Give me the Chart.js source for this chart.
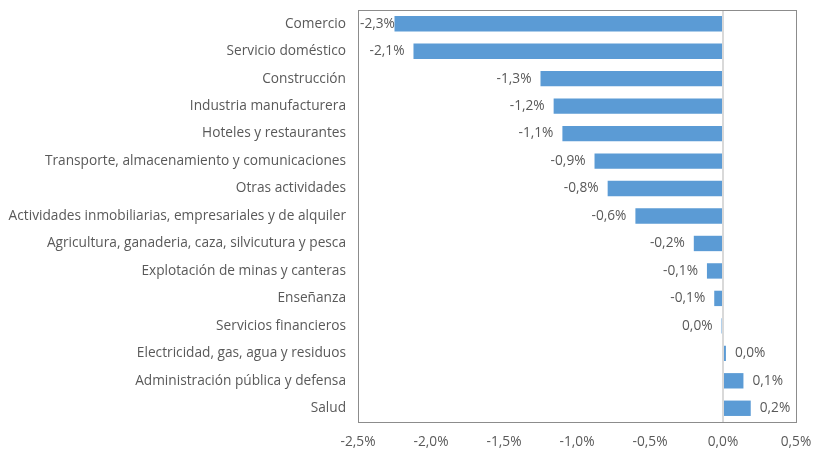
<!DOCTYPE html>
<html>
<head>
<meta charset="utf-8">
<script src="https://cdn.jsdelivr.net/npm/chart.js@4"></script>
<style>
  html, body { margin: 0; padding: 0; background: #fff; }
  #wrap { width: 813px; height: 450px; }
</style>
</head>
<body>
<div id="wrap"><canvas id="chart"></canvas></div>
<script>
const sectors = [
  "Comercio",
  "Servicio doméstico",
  "Construcción",
  "Industria manufacturera",
  "Hoteles y restaurantes",
  "Transporte, almacenamiento y comunicaciones",
  "Otras actividades",
  "Actividades inmobiliarias, empresariales y de alquiler",
  "Agricultura, ganaderia, caza, silvicutura y pesca",
  "Explotación de minas y canteras",
  "Enseñanza",
  "Servicios financieros",
  "Electricidad, gas, agua y residuos",
  "Administración pública y defensa",
  "Salud"
]
const change = [-2.25, -2.12, -1.25, -1.16, -1.10, -0.88, -0.79, -0.60, -0.20, -0.11, -0.06, -0.01, 0.02, 0.14, 0.19]
const xTicks = [-2.5, -2.0, -1.5, -1.0, -0.5, 0.0, 0.5]

const textColor = "#595959"
const fontFamily = "'Open Sans', sans-serif"
const fontSize = 13.7

const pct = v => {
  let s = v.toFixed(1).replace(".", ",")
  if (s === "-0,0") s = "0,0"
  return s + "%"
}

// value labels at the end of each bar, kept inside the plot box
const barLabels = {
  id: "barLabels",
  afterDatasetsDraw(chart) {
    const ctx = chart.ctx
    const area = chart.chartArea
    const meta = chart.getDatasetMeta(0)
    ctx.save()
    ctx.font = fontSize + "px " + fontFamily
    ctx.fillStyle = textColor
    ctx.textBaseline = "middle"
    meta.data.forEach((bar, i) => {
      const v = change[i]
      const text = pct(v)
      if (v < 0) {
        const w = ctx.measureText(text).width
        ctx.textAlign = "right"
        ctx.fillText(text, Math.max(bar.x - 9, area.left + 2 + w), bar.y)
      } else {
        ctx.textAlign = "left"
        ctx.fillText(text, bar.x + 9, bar.y)
      }
    })
    ctx.restore()
  }
}

// box around the plot area
const plotBox = {
  id: "plotBox",
  afterDraw(chart) {
    const { ctx, chartArea: a } = chart
    ctx.save()
    ctx.strokeStyle = "#8c8c8c"
    ctx.lineWidth = 1
    ctx.strokeRect(Math.round(a.left) + 0.5, Math.round(a.top) + 0.5,
                   Math.round(a.right - a.left), Math.round(a.bottom - a.top))
    ctx.restore()
  }
}

new Chart(document.getElementById("chart"), {
  type: "bar",
  data: {
    labels: sectors,
    datasets: [{
      data: change,
      backgroundColor: "#5b9bd5",
      barPercentage: 0.56,
      categoryPercentage: 1
    }]
  },
  options: {
    indexAxis: "y",
    responsive: true,
    maintainAspectRatio: false,
    animation: false,
    layout: { padding: { top: 10, right: 17, left: 0, bottom: 0 } },
    plugins: { legend: { display: false }, tooltip: { enabled: false } },
    scales: {
      x: {
        min: -2.5,
        max: 0.5,
        afterBuildTicks: scale => { scale.ticks = xTicks.map(v => ({ value: v })) },
        afterFit: scale => {
          scale.height = 28
          scale.paddingLeft = 0
          scale.paddingRight = 0
        },
        border: { display: false },
        grid: {
          drawTicks: false,
          color: c => c.tick && c.tick.value === 0 ? "#d9d9d9" : "rgba(0,0,0,0)",
          lineWidth: 2
        },
        ticks: {
          padding: 12,
          color: textColor,
          font: { family: fontFamily, size: fontSize },
          callback: v => pct(v)
        }
      },
      y: {
        afterFit: scale => {
          scale.width = 358
          scale.paddingTop = 0
          scale.paddingBottom = 0
        },
        border: { display: false },
        grid: { display: false, drawTicks: false },
        ticks: {
          padding: 12,
          color: textColor,
          font: { family: fontFamily, size: fontSize }
        }
      }
    }
  },
  plugins: [barLabels, plotBox]
})
</script>
</body>
</html>
